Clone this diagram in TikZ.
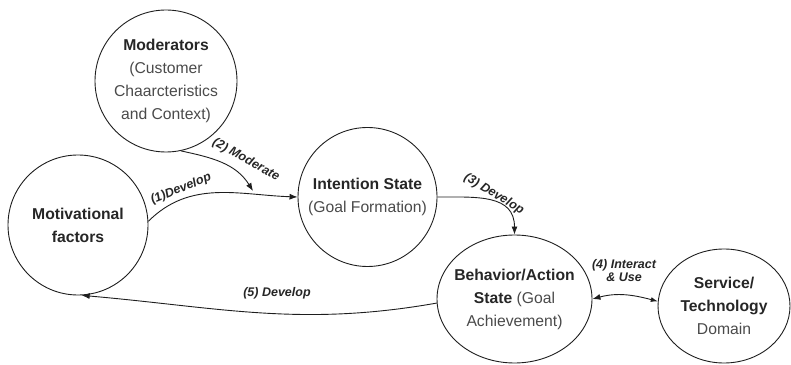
\documentclass[tikz,border=0pt]{standalone}
\usepackage{fontspec}
\setmainfont{Liberation Sans}
\usetikzlibrary{shapes.geometric,arrows.meta}

\definecolor{linec}{HTML}{1E1E1E}
\definecolor{boldtxt}{HTML}{262626}
\definecolor{plaintxt}{HTML}{4A4A4A}

\begin{document}
\begin{tikzpicture}[x=1pt,y=1pt,
  state/.style={ellipse, draw=linec, line width=0.9pt, inner sep=0pt},
  statetext/.style={align=center, inner sep=0pt, text=plaintxt,
    font=\fontsize{15.7}{23}\selectfont},
  link/.style={draw=linec, line width=0.9pt, -{Latex[length=8pt,width=6pt]}},
  lab/.style={inner sep=0pt, text=boldtxt,
    font=\fontsize{12.5}{13}\selectfont\bfseries\itshape},
]
\useasboundingbox (0,0) rectangle (791,364);

% states
\node[state, minimum width=142pt, minimum height=142pt] (mod) at (166,283) {};
\node[state, minimum width=140pt, minimum height=140pt] (mot) at (78,139) {};
\node[state, minimum width=139pt, minimum height=139pt] (int) at (367.5,167) {};
\node[state, minimum width=155pt, minimum height=128pt] (beh) at (514.5,65) {};
\node[state, minimum width=132pt, minimum height=114pt] (svc) at (724,58) {};

% state texts
\node[statetext] (modt) at (mod.center)
  {\textcolor{boldtxt}{\bfseries Moderators}\\(Customer\\Chaarcteristics\\and Context)};
\node[statetext] (mott) at (mot.center)
  {\textcolor{boldtxt}{\bfseries Motivational}\\\textcolor{boldtxt}{\bfseries factors}};
\node[statetext] (intt) at (int.center)
  {\textcolor{boldtxt}{\bfseries Intention State}\\(Goal Formation)};
\node[statetext] (beht) at (beh.center)
  {\textcolor{boldtxt}{\bfseries Behavior/Action}\\\textcolor{boldtxt}{\bfseries State} (Goal\\Achievement)};
\node[statetext] (svct) at (svc.center)
  {\textcolor{boldtxt}{\bfseries Service/}\\\textcolor{boldtxt}{\bfseries Technology}\\Domain};

% connectors
\coordinate (mtip) at (253,173);
\draw[link] (mot.3) to[out=45, in=178] (int.180);
\draw[link] (mod.-78) to[out=-12, in=122] (mtip);
\draw[link] (int.0) to[out=0, in=90, looseness=1.2] (beh.north);
\draw[link, {Latex[length=7pt,width=5pt]}-{Latex[length=8pt,width=6pt]}]
  (svc.176) to[out=165, in=15] (beh.east);
\draw[link] (beh.183) to[out=190, in=-5] (mot.-87);

% connector labels
\node[lab, rotate=22]  (l1) at (181,175) {(1)Develop};
\node[lab, rotate=-29] (l2) at (246,204) {(2) Moderate};
\node[lab, rotate=-31] (l3) at (494,170) {(3) Develop};
\node[lab, align=center] (l4) at (624,93) {(4) Interact\\\& Use};
\node[lab] (l5) at (277,71) {(5) Develop};
\end{tikzpicture}
\end{document}
